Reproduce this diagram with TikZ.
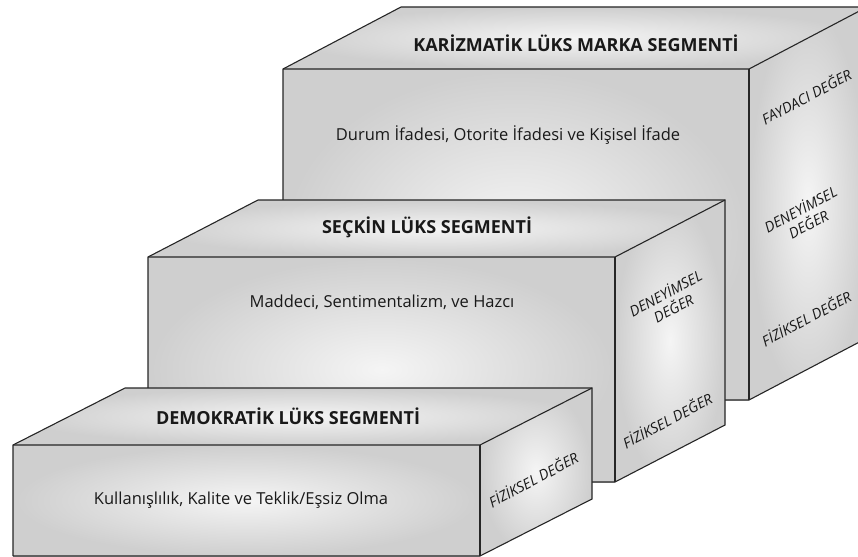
\documentclass[tikz,border=0pt]{standalone}
\usepackage{fontspec}
\setmainfont{Open Sans}
% one cuboid: front corner (x,y), width, height, depth offset (dx, rise)
\newcommand\cuboid[6]{%
  \shade[face] (#1,#2) rectangle ++(#3,#4);
  \shade[face] (#1,#2) -- ++(#5,-#6) -- ++(#3,0) -- ++(-#5,#6) -- cycle;
  \shade[face] (#1+#3,#2) -- ++(#5,-#6) -- ++(0,#4) -- ++(-#5,#6) -- cycle;
  \draw[edge] (#1,#2+#4) -- (#1,#2) -- ++(#5,-#6) -- ++(#3,0) -- ++(0,#4)
              -- ++(-#5,#6) -- ++(-#3,0);
  \draw[edge] (#1,#2) -- ++(#3,0) -- ++(#5,-#6);
  \draw[edge] (#1+#3,#2) -- ++(0,#4);
}
\begin{document}
\begin{tikzpicture}[x=1pt,y=-1pt,
  edge/.style={draw=black!85, line width=1.1pt, line join=miter},
  face/.style={shading=radial, inner color=black!4, outer color=black!19},
  title/.style={font=\fontsize{18}{21}\selectfont\bfseries, text=black!90},
  body/.style={font=\fontsize{16.5}{19}\selectfont, text=black!90},
  side/.style={font=\fontsize{14.5}{17}\selectfont\itshape, rotate=28,
               align=center, text=black!90, inner sep=0pt}]
\useasboundingbox (0,0) rectangle (858,556);
\clip (0,0) rectangle (858,556);

% top tier
\cuboid{283}{69}{466}{331}{118}{62}
\node[title] (karizma) at (576,43) {KARİZMATİK LÜKS MARKA SEGMENTİ};
\node[body] (durum) at (508,135) {Durum İfadesi, Otorite İfadesi ve Kişisel İfade};
\node[side] (fayda1) at (806,96) {FAYDACI DEĞER};
\node[side] (deney1) at (804,216) {DENEYİMSEL\\DEĞER};
\node[side] (fizik1) at (806,318) {FİZİKSEL DEĞER};

% middle tier
\cuboid{148}{257}{467}{225}{110}{57}
\node[title] (seckin) at (427,227) {SEÇKİN LÜKS SEGMENTİ};
\node[body] (maddeci) at (382,302) {Maddeci, Sentimentalizm, ve Hazcı};
\node[side] (deney2) at (669,300) {DENEYİMSEL\\DEĞER};
\node[side] (fizik2) at (667,420) {FİZİKSEL DEĞER};

% bottom tier
\cuboid{13}{445}{467}{111}{112}{57}
\node[title] (demokrat) at (288,416) {DEMOKRATİK LÜKS SEGMENTİ};
\node[body] (kullanis) at (241,500) {Kullanışlılık, Kalite ve Teklik/Eşsiz Olma};
\node[side] (fizik3) at (533,479) {FİZİKSEL DEĞER};
\end{tikzpicture}
\end{document}
